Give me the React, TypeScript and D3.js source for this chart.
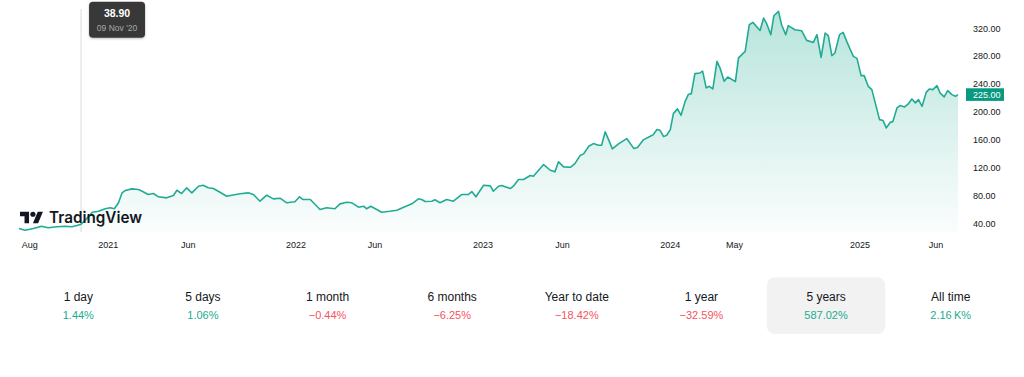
import React from "react";
import * as d3 from "d3";

const dates = [
  "2020-07-11","2020-07-23","2020-08-08","2020-08-24","2020-09-06","2020-09-23","2020-10-09","2020-10-22","2020-11-01","2020-11-09",
  "2020-11-20","2020-12-01","2020-12-13","2020-12-26","2021-01-05","2021-01-13","2021-01-21","2021-01-28","2021-02-03","2021-02-16",
  "2021-03-01","2021-03-10","2021-03-20","2021-03-30","2021-04-09","2021-04-25","2021-05-08","2021-05-15","2021-05-24","2021-06-03",
  "2021-06-13","2021-06-26","2021-07-05","2021-07-15","2021-07-25","2021-08-07","2021-08-20","2021-08-30","2021-09-15","2021-10-01",
  "2021-10-11","2021-10-24","2021-11-06","2021-11-19","2021-12-02","2021-12-15","2021-12-31","2022-01-09","2022-01-16","2022-01-30",
  "2022-02-18","2022-03-03","2022-03-19","2022-03-29","2022-04-11","2022-04-21","2022-05-04","2022-05-14","2022-05-20","2022-05-28",
  "2022-06-05","2022-06-18","2022-07-04","2022-07-18","2022-07-31","2022-08-16","2022-08-29","2022-09-04","2022-09-11","2022-09-24",
  "2022-09-30","2022-10-10","2022-10-23","2022-11-05","2022-11-21","2022-12-04","2022-12-11","2022-12-19","2023-01-03","2023-01-16",
  "2023-01-22","2023-02-01","2023-02-07","2023-02-24","2023-03-02","2023-03-12","2023-03-22","2023-04-04","2023-04-10","2023-04-30",
  "2023-05-13","2023-05-22","2023-05-29","2023-06-08","2023-06-21","2023-06-30","2023-07-10","2023-07-17","2023-07-27","2023-08-05",
  "2023-08-15","2023-08-21","2023-08-28","2023-09-03","2023-09-11","2023-09-23","2023-10-09","2023-10-23","2023-10-30","2023-11-11",
  "2023-11-24","2023-11-30","2023-12-07","2023-12-13","2023-12-20","2023-12-26","2024-01-02","2024-01-08","2024-01-16","2024-01-23",
  "2024-01-31","2024-02-06","2024-02-12","2024-02-19","2024-02-29","2024-03-05","2024-03-12","2024-03-18","2024-03-25","2024-04-02",
  "2024-04-08","2024-04-16","2024-04-23","2024-05-08","2024-05-14","2024-05-27","2024-06-04","2024-06-11","2024-06-25","2024-07-02",
  "2024-07-08","2024-07-16","2024-07-22","2024-07-31","2024-08-06","2024-08-14","2024-08-19","2024-09-01","2024-09-14","2024-09-24",
  "2024-10-07","2024-10-14","2024-10-22","2024-10-30","2024-11-05","2024-11-12","2024-11-18","2024-11-27","2024-12-04","2024-12-11",
  "2024-12-18","2024-12-24","2024-12-31","2025-01-08","2025-01-14","2025-01-22","2025-01-29","2025-02-13","2025-02-20","2025-02-26",
  "2025-03-06","2025-03-11","2025-03-19","2025-03-25","2025-04-03","2025-04-10","2025-04-17","2025-04-24","2025-04-30","2025-05-07",
  "2025-05-15","2025-05-21","2025-05-28","2025-06-05","2025-06-11","2025-06-19","2025-06-26","2025-07-04","2025-07-11","2025-07-16",
];

const prices = [
  32.7, 30.4, 32.8, 36.1, 33.8, 35.3, 36.1, 35.3, 37.1, 38.9,
  47.0, 56.2, 57.6, 61.1, 62.5, 61.1, 69.7, 84.0, 87.3, 89.7,
  88.7, 85.5, 81.6, 83.0, 78.3, 76.8, 80.1, 87.7, 83.0, 91.2,
  84.0, 93.5, 94.9, 91.2, 90.2, 84.9, 79.1, 80.6, 82.6, 84.0,
  81.6, 72.0, 80.6, 75.4, 76.3, 69.7, 71.1, 78.3, 74.4, 74.4,
  60.1, 62.5, 61.1, 68.2, 70.5, 69.7, 63.4, 64.8, 61.1, 64.8,
  61.5, 56.2, 57.6, 59.1, 63.4, 68.2, 75.4, 74.4, 71.5, 72.0,
  74.0, 69.7, 74.4, 72.0, 81.6, 81.6, 85.9, 78.3, 94.9, 94.0,
  86.3, 93.5, 94.5, 90.2, 93.5, 103.1, 103.1, 108.8, 107.8, 124.6,
  116.4, 114.1, 128.5, 121.3, 120.7, 126.0, 137.5, 139.9, 150.8, 154.7,
  152.3, 152.3, 171.5, 161.5, 147.1, 154.3, 161.9, 147.5, 149.0, 160.4,
  165.2, 167.6, 174.8, 173.8, 164.7, 166.6, 174.8, 197.7, 204.5, 195.3,
  215.3, 225.0, 226.4, 255.1, 256.1, 258.6, 234.6, 236.9, 233.1, 272.7,
  263.2, 244.0, 250.3, 243.6, 277.6, 287.0, 325.3, 328.6, 317.1, 334.9,
  326.7, 311.0, 338.2, 344.4, 325.3, 311.0, 323.9, 318.1, 316.7, 302.8,
  299.9, 311.0, 278.4, 313.4, 309.5, 280.9, 284.7, 311.0, 314.3, 301.4,
  289.5, 279.9, 277.0, 252.2, 252.2, 236.9, 232.1, 189.1, 187.7, 177.2,
  185.2, 186.2, 205.9, 209.2, 207.3, 211.6, 218.8, 213.1, 217.8, 208.2,
  228.2, 233.1, 232.1, 237.9, 227.4, 221.7, 230.7, 225.0, 222.5, 225.0,
];

const yTicks = [40, 80, 120, 160, 200, 240, 280, 320];
const xTickDates = [
  "2020-08-01","2021-01-01","2021-06-06","2022-01-02","2022-06-05","2023-01-02",
  "2023-06-06","2024-01-02","2024-05-06","2025-01-06","2025-06-03",
];
const xTickLabels = ["Aug","2021","Jun","2022","Jun","2023","Jun","2024","May","2025","Jun"];

const periodLabels = ["1 day","5 days","1 month","6 months","Year to date","1 year","5 years","All time"];
const periodChanges = ["1.44%","1.06%","\u22120.44%","\u22126.25%","\u221218.42%","\u221232.59%","587.02%","2.16\u2009K%"];
const periodUp = [true, true, false, false, false, false, true, true];
const selectedPeriod = "5 years";

const lastPrice = 225.0;
const hoverDate = "2020-11-09";
const hoverPrice = 38.9;
const hoverDateLabel = "09 Nov '20";

const W = 1024;
const H = 377;
const FONT = "'Liberation Sans', Arial, sans-serif";
const GREEN = "#22ab94";
const RED = "#f7525f";
const TEXT = "#131722";

export default function App() {
  const parse = d3.timeParse("%Y-%m-%d");
  const data = dates.map((d, i) => ({ date: parse(d) as Date, value: prices[i] }));

  const plotLeft = 19;
  const plotRight = 958;
  const plotBottom = 232;

  const x = d3
    .scaleTime()
    .domain(d3.extent(data, (d) => d.date) as [Date, Date])
    .range([plotLeft, plotRight]);
  const y = d3.scaleLinear().domain([40, 320]).range([223.5, 28.4]);

  const line = d3
    .line<{ date: Date; value: number }>()
    .x((d) => x(d.date))
    .y((d) => y(d.value));
  const area = d3
    .area<{ date: Date; value: number }>()
    .x((d) => x(d.date))
    .y0(plotBottom)
    .y1((d) => y(d.value));

  const band = d3.scaleBand<string>().domain(periodLabels).range([16, 1013]);

  const hx = x(parse(hoverDate) as Date);
  const tipW = 56;
  const tipX = hx + 8;

  const priceY = y(lastPrice);

  return (
    <svg
      width={W}
      height={H}
      style={{ position: "absolute", left: 0, top: 0, background: "#ffffff" }}
      fontFamily={FONT}
    >
      <defs>
        <linearGradient id="areaFill" gradientUnits="userSpaceOnUse" x1="0" y1={y(340)} x2="0" y2={plotBottom}>
          <stop offset="0" stopColor={GREEN} stopOpacity={0.32} />
          <stop offset="1" stopColor={GREEN} stopOpacity={0.02} />
        </linearGradient>
        <filter id="tipShadow" x="-20%" y="-20%" width="140%" height="150%">
          <feDropShadow dx="0" dy="1" stdDeviation="1" floodColor="#000" floodOpacity="0.25" />
        </filter>
      </defs>

      {/* crosshair */}
      <line x1={hx} x2={hx} y1={9} y2={plotBottom} stroke="#dcdcdc" strokeWidth={1} />

      <path d={area(data) as string} fill="url(#areaFill)" />
      <path d={line(data) as string} fill="none" stroke={GREEN} strokeWidth={1.6} strokeLinejoin="round" />

      {/* TradingView logo */}
      <g transform="translate(20,209.1) scale(0.646)" fill={TEXT}>
        <path d="M14 22H7V11H0V4h14v18zM28 22h-8l7.5-18h8L28 22z" />
        <circle cx={20} cy={8} r={4} />
      </g>
      <text
        x={49}
        y={223.3}
        fontFamily="Inter, 'Liberation Sans', sans-serif"
        fontWeight={600}
        fontSize={16}
        fill={TEXT}
        textLength={93}
        lengthAdjust="spacingAndGlyphs"
      >
        TradingView
      </text>

      {/* y axis labels */}
      {yTicks.map((t) => (
        <text key={t} x={973} y={y(t)} dy="0.35em" fontSize={9} fill={TEXT}>
          {t.toFixed(2)}
        </text>
      ))}

      {/* last price label */}
      <rect x={966} y={priceY - 6.3} width={38} height={12.6} fill="#089981" />
      <text x={973} y={priceY} dy="0.36em" fontSize={9} fill="#ffffff">
        {lastPrice.toFixed(2)}
      </text>

      {/* x axis labels */}
      {xTickDates.map((d, i) => (
        <text key={d} x={x(parse(d) as Date)} y={248.3} textAnchor="middle" fontSize={9} fill={TEXT}>
          {xTickLabels[i]}
        </text>
      ))}

      {/* tooltip */}
      <g filter="url(#tipShadow)">
        <rect x={tipX} y={1.7} width={tipW} height={36} rx={4} fill="#393939" />
      </g>
      <text x={tipX + tipW / 2} y={17.2} textAnchor="middle" fontSize={10.5} fontWeight={700} fill="#ffffff">
        {hoverPrice.toFixed(2)}
      </text>
      <text x={tipX + tipW / 2} y={31.2} textAnchor="middle" fontSize={8.5} fill="#a9a9a9">
        {hoverDateLabel}
      </text>

      {/* period performance row */}
      {periodLabels.map((p, i) => {
        const cx = (band(p) as number) + band.bandwidth() / 2;
        const sel = p === selectedPeriod;
        return (
          <g key={p}>
            {sel && <rect x={cx - 59.2} y={277.3} width={118.4} height={56.7} rx={8} fill="#f2f2f2" />}
            <text x={cx} y={300.9} textAnchor="middle" fontSize={12} fill={TEXT}>
              {p}
            </text>
            <text x={cx} y={319} textAnchor="middle" fontSize={11} fill={periodUp[i] ? GREEN : RED}>
              {periodChanges[i]}
            </text>
          </g>
        );
      })}
    </svg>
  );
}
